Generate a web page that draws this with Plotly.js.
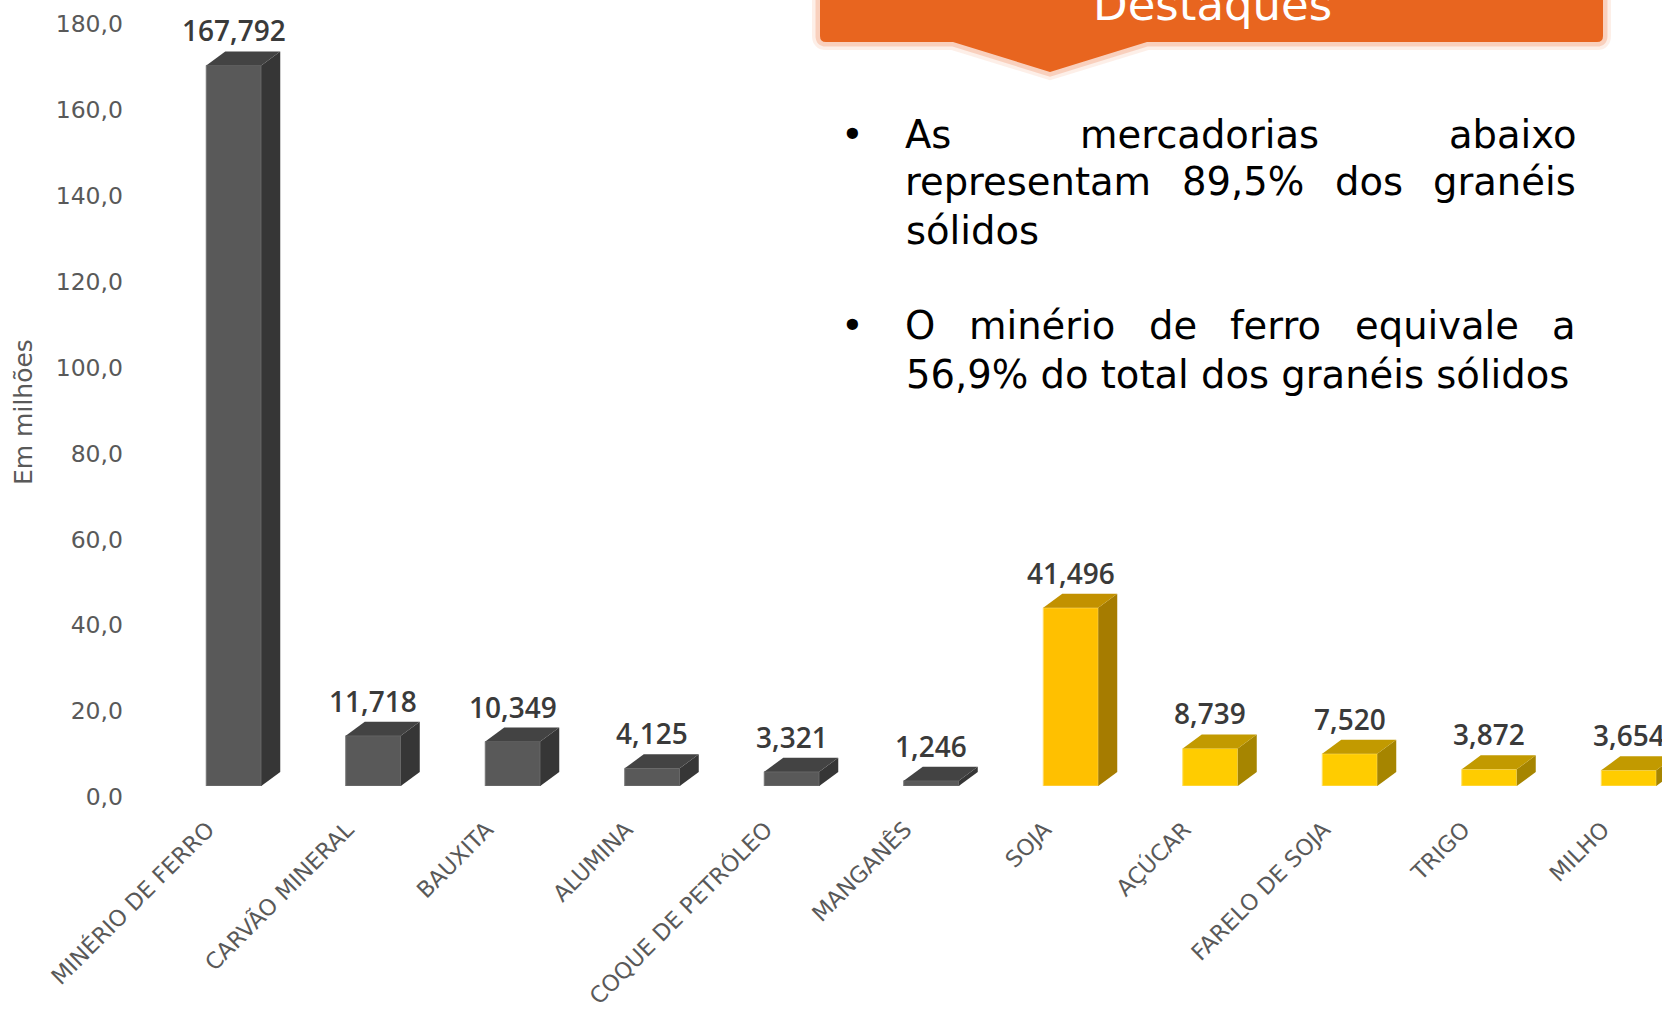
<!DOCTYPE html>
<html><head><meta charset="utf-8">
<script src="https://cdn.plot.ly/plotly-3.0.1.min.js"></script>
<style>html,body{margin:0;padding:0;background:#fff;overflow:hidden}</style>
</head><body><div id="chart" style="width:1662px;height:1011px"></div>
<script>
// ---------- data ----------
const categories = ["MINÉRIO DE FERRO","CARVÃO MINERAL","BAUXITA","ALUMINA","COQUE DE PETRÓLEO","MANGANÊS","SOJA","AÇÚCAR","FARELO DE SOJA","TRIGO","MILHO"];
const values = [167.792, 11.718, 10.349, 4.125, 3.321, 1.246, 41.496, 8.739, 7.520, 3.872, 3.654];
const valueLabels = ["167,792","11,718","10,349","4,125","3,321","1,246","41,496","8,739","7,520","3,872","3,654"];
const groups = ["mineral","mineral","mineral","mineral","mineral","mineral","soja","agri","agri","agri","agri"];
const yTickVals = [0, 20, 40, 60, 80, 100, 120, 140, 160, 180];
const yTickText = ["0,0","20,0","40,0","60,0","80,0","100,0","120,0","140,0","160,0","180,0"];
const yTitle = "Em milhões";
const highlightsTitle = "Destaques";
const bullet1Lines = [["As","mercadorias","abaixo"],["representam","89,5%","dos","granéis"],["sólidos"]];
const bullet2Lines = [["O","minério","de","ferro","equivale","a"],["56,9% do total dos granéis sólidos"]];

// ---------- styles / geometry ----------
const W = 1662, H = 1011;
const M = {l:164, r:0, t:13, b:225};
const pw = W - M.l - M.r, ph = H - M.t - M.b;
const pxPerCat = 139.5;
const xRange = [-0.5, -0.5 + pw / pxPerCat];
const yRange = [0, 180];
const pxPerY = ph / (yRange[1] - yRange[0]);
const barW = 55 / pxPerCat;
const dx = 19 / pxPerCat, dy = 14 / pxPerY;
const FONT = "DejaVu Sans";
const palette = {
  mineral: {front:"#595959", side:"#363636", top:"#434343", edge:"#747474"},
  soja:    {front:"#FFC000", side:"#A67C00", top:"#C29100", edge:"#FFD966"},
  agri:    {front:"#FFCC00", side:"#A68500", top:"#C29A00", edge:"#FFE066"}
};
const px2x = p => (p - M.l) / pw;
const py2y = p => (H - M.b - p) / ph;

const idx = categories.map((_, i) => i);

const traces = [{
  type: "bar",
  x: idx,
  y: values,
  width: barW,
  marker: {
    color: groups.map(g => palette[g].front),
    line: {color: groups.map(g => palette[g].edge), width: 1}
  },
  hoverinfo: "skip",
  showlegend: false
}];

const shapes = [];
// 3D side and top faces derived from values
values.forEach((v, i) => {
  const c = palette[groups[i]];
  const xl = i - barW / 2, xr = i + barW / 2;
  shapes.push({
    type: "path", xref: "x", yref: "y", layer: "above",
    path: `M ${xr},0 L ${xr + dx},${dy} L ${xr + dx},${v + dy} L ${xr},${v} Z`,
    fillcolor: c.side, line: {width: 0}
  });
  shapes.push({
    type: "path", xref: "x", yref: "y", layer: "above",
    path: `M ${xl},${v} L ${xl + dx},${v + dy} L ${xr + dx},${v + dy} L ${xr},${v} Z`,
    fillcolor: c.top, line: {width: 0}
  });
});

// Banner (Destaques)
function bannerPath() {
  const pts = [
    ["M", 820, -40], ["L", 1603, -40], ["L", 1603, 36], ["Q", 1603, 42, 1597, 42],
    ["L", 1147, 42], ["L", 1050, 72], ["L", 953, 42], ["L", 826, 42], ["Q", 820, 42, 820, 36]
  ];
  let s = "";
  pts.forEach(p => {
    s += p[0] + " ";
    for (let k = 1; k < p.length; k += 2) s += px2x(p[k]) + "," + py2y(p[k + 1]) + " ";
  });
  return s + "Z";
}
const bp = bannerPath();
shapes.push({type:"path", xref:"paper", yref:"paper", path: bp, fillcolor:"rgba(0,0,0,0)", line:{color:"rgba(240,130,80,0.13)", width:16}, layer:"above"});
shapes.push({type:"path", xref:"paper", yref:"paper", path: bp, fillcolor:"rgba(0,0,0,0)", line:{color:"rgba(240,130,80,0.28)", width:9}, layer:"above"});
shapes.push({type:"path", xref:"paper", yref:"paper", path: bp, fillcolor:"#E8651F", line:{width:0}, layer:"above"});

const annotations = [];
// value labels
values.forEach((v, i) => {
  annotations.push({
    x: i, y: v, xref: "x", yref: "y", text: valueLabels[i], showarrow: false,
    xanchor: "center", yanchor: "bottom", yshift: 14,
    font: {family: "Open Sans", weight: 600, size: 28, color: "#3a3a3a"}
  });
});
// y title
annotations.push({
  x: px2x(23), y: py2y(412), xref: "paper", yref: "paper", text: yTitle, showarrow: false,
  textangle: -90, xanchor: "center", yanchor: "middle",
  font: {family: FONT, size: 25, color: "#595959"}
});
// banner title
annotations.push({
  x: px2x(1212), y: py2y(20 - 0.346 * 45), xref: "paper", yref: "paper", text: highlightsTitle,
  showarrow: false, xanchor: "center", yanchor: "middle",
  font: {family: FONT, size: 45, color: "#ffffff"}
});

// justified bullet text
const TS = 38.5;
const cvs = document.createElement("canvas").getContext("2d");
cvs.font = `${TS}px "${FONT}"`;
const textLeft = 905, textRight = 1576;
function addLine(words, baseline, justify) {
  const yc = py2y(baseline - 0.346 * TS);
  if (!justify || words.length === 1) {
    annotations.push({x: px2x(textLeft), y: yc, xref:"paper", yref:"paper", text: words.join(" "),
      showarrow:false, xanchor:"left", yanchor:"middle", borderpad:0, font:{family:FONT, size:TS, color:"#000"}});
    return;
  }
  const widths = words.map(w => cvs.measureText(w).width);
  const total = widths.reduce((a, b) => a + b, 0);
  const gap = (textRight - textLeft - total) / (words.length - 1);
  let cur = textLeft;
  words.forEach((w, k) => {
    annotations.push({x: px2x(cur + widths[k] / 2), y: yc, xref:"paper", yref:"paper", text: w,
      showarrow:false, xanchor:"center", yanchor:"middle", borderpad:0, font:{family:FONT, size:TS, color:"#000"}});
    cur += widths[k] + gap;
  });
}
function addBullet(baseline) {
  annotations.push({x: px2x(852), y: py2y(baseline - 0.346 * TS), xref:"paper", yref:"paper", text:"•",
    showarrow:false, xanchor:"center", yanchor:"middle", font:{family:FONT, size:TS, color:"#000"}});
}
addBullet(148);
addLine(bullet1Lines[0], 148, true);
addLine(bullet1Lines[1], 195, true);
addLine(bullet1Lines[2], 244, false);
addBullet(339);
addLine(bullet2Lines[0], 339, true);
addLine(bullet2Lines[1], 388, false);

const layout = {
  width: W, height: H,
  margin: M,
  paper_bgcolor: "#ffffff", plot_bgcolor: "#ffffff",
  showlegend: false,
  bargap: 0,
  xaxis: {
    type: "linear", range: xRange, tickmode: "array", tickvals: idx, ticktext: categories,
    tickangle: -45, showgrid: false, zeroline: false, showline: false, ticks: "",
    ticklabelstandoff: 25, ticklabelshift: -26,
    tickfont: {family: FONT, size: 22.5, color: "#595959"}, fixedrange: true
  },
  yaxis: {
    range: yRange, tickmode: "array", tickvals: yTickVals, ticktext: yTickText,
    showgrid: false, zeroline: false, showline: false, ticks: "",
    ticklabelstandoff: 40, ticklabelshift: 11,
    tickfont: {family: FONT, size: 23.5, color: "#595959"}, fixedrange: true
  },
  shapes: shapes,
  annotations: annotations
};
Plotly.newPlot("chart", traces, layout, {displayModeBar: false, staticPlot: true});
</script></body></html>
